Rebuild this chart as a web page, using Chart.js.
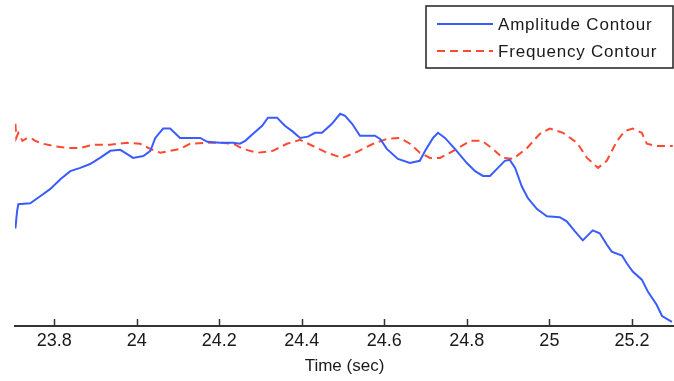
<!DOCTYPE html>
<html>
<head>
<meta charset="utf-8">
<title>Amplitude and Frequency Contours</title>
<script src="https://cdn.jsdelivr.net/npm/chart.js@4"></script>
<style>
  html, body { margin: 0; padding: 0; background: #ffffff; }
  canvas { display: block; }
</style>
</head>
<body>
<canvas id="chart" width="674" height="381"></canvas>
<script>
// Amplitude contour (normalised units) against time in seconds
const ampTime = [23.706, 23.710, 23.713, 23.742, 23.766, 23.790, 23.815, 23.839, 23.863, 23.887,
  23.911, 23.936, 23.960, 23.977, 23.991, 24.016, 24.033, 24.045, 24.064, 24.081,
  24.105, 24.154, 24.171, 24.202, 24.234, 24.250, 24.263, 24.282, 24.304, 24.318,
  24.340, 24.359, 24.376, 24.396, 24.415, 24.432, 24.449, 24.473, 24.493, 24.505,
  24.522, 24.541, 24.577, 24.590, 24.606, 24.633, 24.662, 24.686, 24.699, 24.718,
  24.730, 24.747, 24.771, 24.800, 24.820, 24.839, 24.856, 24.873, 24.892, 24.904,
  24.917, 24.933, 24.948, 24.970, 24.994, 25.025, 25.042, 25.062, 25.081, 25.105,
  25.122, 25.139, 25.151, 25.176, 25.188, 25.202, 25.224, 25.239, 25.260, 25.273, 25.297];
const amplitude = [30.3, 35.6, 37.8, 38.1, 40.3, 42.5, 45.6, 48.1, 49.1, 50.3,
  52.2, 54.4, 54.7, 53.4, 52.2, 52.8, 54.4, 58.4, 61.3, 61.3,
  58.4, 58.4, 57.2, 56.9, 56.9, 56.6, 57.5, 59.7, 62.2, 64.7,
  64.7, 62.2, 60.6, 58.4, 58.8, 60.0, 60.0, 62.8, 65.9, 65.3,
  62.8, 59.1, 59.1, 58.1, 55.0, 51.9, 50.6, 51.3, 54.4, 58.4,
  60.0, 58.4, 55.0, 50.6, 48.1, 46.6, 46.6, 48.8, 51.3, 51.6,
  49.1, 43.4, 39.7, 36.3, 34.1, 33.8, 32.5, 29.4, 26.6, 29.7,
  28.8, 25.3, 23.1, 21.9, 19.4, 16.9, 14.4, 10.6, 6.6, 3.1, 1.3];

// Frequency contour (normalised units) against time in seconds
const freqTime = [23.706, 23.708, 23.713, 23.723, 23.735, 23.747, 23.754, 23.773, 23.798, 23.831,
  23.863, 23.894, 23.936, 23.977, 24.008, 24.033, 24.057, 24.081, 24.105, 24.129,
  24.171, 24.202, 24.234, 24.258, 24.292, 24.330, 24.364, 24.396, 24.427, 24.461,
  24.498, 24.534, 24.573, 24.606, 24.638, 24.662, 24.686, 24.711, 24.735, 24.776,
  24.808, 24.837, 24.863, 24.887, 24.912, 24.946, 24.977, 25.001, 25.033, 25.067,
  25.091, 25.118, 25.139, 25.164, 25.183, 25.202, 25.224, 25.236, 25.260, 25.299];
const frequency = [62.8, 58.4, 60.0, 57.5, 58.4, 58.1, 57.5, 56.6, 55.9, 55.3,
  55.3, 56.3, 56.3, 56.9, 56.6, 55.0, 53.8, 54.4, 55.0, 56.6,
  56.9, 56.9, 56.6, 55.0, 53.8, 54.4, 56.6, 57.8, 55.9, 53.8,
  52.2, 54.1, 56.6, 58.1, 58.4, 56.6, 53.8, 52.2, 52.2, 55.0,
  57.5, 57.5, 55.0, 52.2, 51.9, 55.3, 59.7, 61.3, 60.0, 56.9,
  52.2, 49.1, 51.3, 57.5, 60.6, 61.3, 60.0, 56.6, 55.9, 55.9];

// Axis ticks
const timeTicks = [23.8, 24, 24.2, 24.4, 24.6, 24.8, 25, 25.2];
const tickLabels = ['23.8', '24', '24.2', '24.4', '24.6', '24.8', '25', '25.2'];

const seriesNames = ['Amplitude Contour', 'Frequency Contour'];
const axisFont = '"Liberation Sans", Arial, sans-serif';

const toPoints = (xs, ys) => xs.map((x, i) => ({ x: x, y: ys[i] }));

// Tick marks pointing up into the plot, from the x scale's own tick positions
const innerTicks = {
  id: 'innerTicks',
  afterDatasetsDraw(chart) {
    const scale = chart.scales.x;
    const ctx = chart.ctx;
    const y0 = chart.chartArea.bottom;
    ctx.save();
    ctx.strokeStyle = '#333333';
    ctx.lineWidth = 1.5;
    scale.ticks.forEach((t, i) => {
      const x = Math.round(scale.getPixelForTick(i)) + 0.5;
      ctx.beginPath();
      ctx.moveTo(x, y0);
      ctx.lineTo(x, y0 - 7);
      ctx.stroke();
    });
    ctx.restore();
  }
};

// Boxed legend in the upper right corner of the axes
const boxedLegend = {
  id: 'boxedLegend',
  afterDraw(chart) {
    const ctx = chart.ctx;
    const box = { left: 426, top: 6, right: 673, bottom: 68 };
    ctx.save();
    ctx.fillStyle = '#ffffff';
    ctx.fillRect(box.left, box.top, box.right - box.left, box.bottom - box.top);
    ctx.strokeStyle = '#222222';
    ctx.lineWidth = 1.5;
    ctx.strokeRect(box.left, box.top, box.right - box.left, box.bottom - box.top);
    const rows = [24, 51];
    chart.data.datasets.forEach((ds, i) => {
      const y = rows[i];
      ctx.strokeStyle = ds.borderColor;
      ctx.lineWidth = ds.borderWidth;
      ctx.setLineDash(ds.borderDash || []);
      ctx.beginPath();
      ctx.moveTo(437, y);
      ctx.lineTo(493, y);
      ctx.stroke();
      ctx.setLineDash([]);
      ctx.fillStyle = '#1a1a1a';
      ctx.font = '17px ' + axisFont;
      if ('letterSpacing' in ctx) ctx.letterSpacing = '0.8px';
      ctx.textBaseline = 'middle';
      ctx.textAlign = 'left';
      ctx.fillText(ds.label, 498, y + 1);
    });
    ctx.restore();
  }
};

new Chart(document.getElementById('chart'), {
  type: 'line',
  data: {
    datasets: [
      {
        label: seriesNames[0],
        data: toPoints(ampTime, amplitude),
        borderColor: '#3a5cff',
        borderWidth: 2,
        pointRadius: 0,
        tension: 0,
        fill: false
      },
      {
        label: seriesNames[1],
        data: toPoints(freqTime, frequency),
        borderColor: '#ff4a33',
        borderWidth: 2,
        borderDash: [8, 5],
        pointRadius: 0,
        tension: 0,
        fill: false
      }
    ]
  },
  options: {
    responsive: false,
    animation: false,
    devicePixelRatio: 1,
    layout: { padding: { left: 15, right: 0, top: 4, bottom: 0 } },
    plugins: {
      legend: { display: false },
      tooltip: { enabled: false }
    },
    scales: {
      x: {
        type: 'linear',
        min: 23.705,
        max: 25.302,
        afterBuildTicks(scale) {
          scale.ticks = timeTicks.map(v => ({ value: v }));
        },
        ticks: {
          autoSkip: false,
          maxRotation: 0,
          padding: 4,
          color: '#1a1a1a',
          font: { family: axisFont, size: 18 },
          callback: (value, index) => tickLabels[index]
        },
        grid: { display: true, drawOnChartArea: false, drawTicks: false, color: 'rgba(0,0,0,0)' },
        border: { display: true, color: '#333333', width: 2 },
        title: {
          display: true,
          text: 'Time (sec)',
          color: '#1a1a1a',
          font: { family: axisFont, size: 17 },
          padding: { top: 1, bottom: 4 }
        }
      },
      y: {
        display: false,
        min: 0,
        max: 100
      }
    }
  },
  plugins: [innerTicks, boxedLegend]
});
</script>
</body>
</html>
